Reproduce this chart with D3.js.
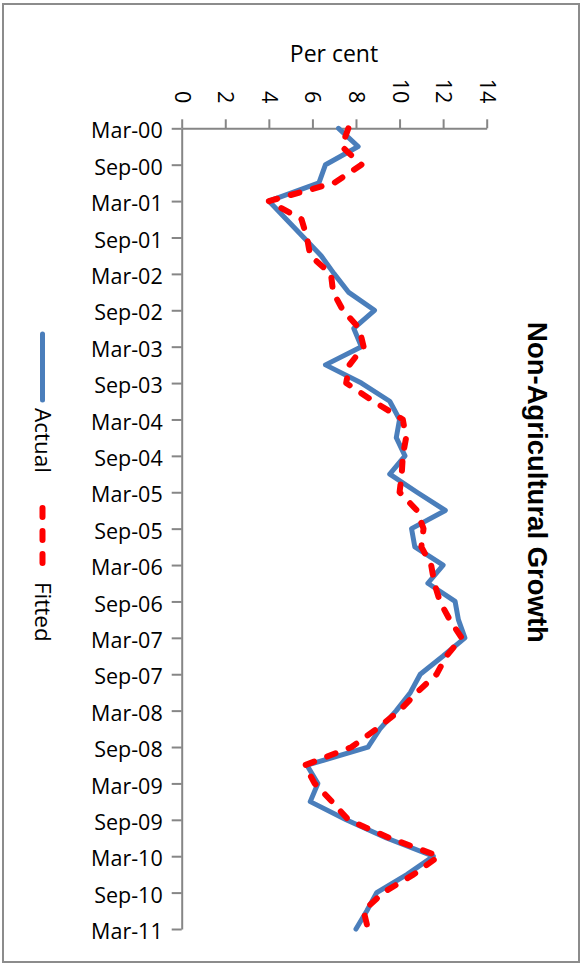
<!DOCTYPE html>
<html><head><meta charset="utf-8">
<script src="https://cdn.jsdelivr.net/npm/d3@7"></script>
<style>
html,body{margin:0;padding:0;background:#fff;}
svg{display:block;}
</style></head>
<body>
<svg id="chart" width="582" height="965"></svg>
<script>
const categories = ["Mar-00","Jun-00","Sep-00","Dec-00","Mar-01","Jun-01","Sep-01","Dec-01",
"Mar-02","Jun-02","Sep-02","Dec-02","Mar-03","Jun-03","Sep-03","Dec-03",
"Mar-04","Jun-04","Sep-04","Dec-04","Mar-05","Jun-05","Sep-05","Dec-05",
"Mar-06","Jun-06","Sep-06","Dec-06","Mar-07","Jun-07","Sep-07","Dec-07",
"Mar-08","Jun-08","Sep-08","Dec-08","Mar-09","Jun-09","Sep-09","Dec-09",
"Mar-10","Jun-10","Sep-10","Dec-10","Mar-11"];
const actual = [7.2,8.1,6.6,6.3,4.0,4.8,5.6,6.4,7.0,7.65,8.85,7.9,8.25,6.6,8.25,9.55,
10.0,9.85,10.25,9.55,10.8,12.1,10.55,10.7,12.0,11.3,12.55,12.7,13.0,12.0,10.95,10.5,
9.85,9.1,8.55,5.75,6.25,5.9,7.55,9.4,11.55,10.35,8.95,8.5,8.0];
const fitted = [7.65,7.35,8.25,7.0,4.0,5.5,5.75,5.9,6.85,6.95,7.4,8.15,8.35,7.7,7.55,8.8,
10.15,10.3,10.15,10.1,10.0,10.8,11.1,11.0,11.45,11.6,11.85,12.3,12.85,12.15,11.7,10.8,
10.0,8.95,7.8,5.65,6.1,6.9,7.65,9.55,11.8,10.65,9.25,8.35,8.55];
const valueTicks = [0,2,4,6,8,10,12,14];
const seriesNames = ["Actual","Fitted"];
const title = "Non-Agricultural Growth";
const axisTitle = "Per cent";

const svg = d3.select("#chart");
const axisColor = "#868686";
const blue = "#4A7EBB", red = "#FF0000";
const font = "'Open Sans', sans-serif";

// frame
svg.append("rect").attr("x",3).attr("y",4).attr("width",576).attr("height",958)
  .attr("fill","#fff").attr("stroke","#8c8c8c").attr("stroke-width",2);

const x = d3.scaleLinear().domain([0,14]).range([181.7,486.7]);
const y = d3.scalePoint().domain(categories).range([128.3,929]);

// value axis (top)
const xAxis = svg.append("g").attr("transform","translate(0,128.3)")
  .call(d3.axisTop(x).tickValues(valueTicks).tickSize(9).tickSizeOuter(0).tickFormat(d3.format("d")));
xAxis.select(".domain").attr("stroke",axisColor).attr("stroke-width",2);
xAxis.selectAll(".tick line").attr("stroke",axisColor).attr("stroke-width",2);
xAxis.selectAll(".tick text")
  .attr("font-family",font).attr("font-size",21.5).attr("fill","#000")
  .attr("text-anchor","end").attr("x",null).attr("y",null).attr("dy","0.35em")
  .attr("transform","translate(0,-25) rotate(90)");

// category axis (left)
const yAxis = svg.append("g").attr("transform","translate(181.7,0)")
  .call(d3.axisLeft(y).tickValues(categories.filter((d,i)=>i%2===0)).tickSize(10).tickSizeOuter(0));
yAxis.select(".domain").attr("stroke",axisColor).attr("stroke-width",2);
yAxis.selectAll(".tick line").attr("stroke",axisColor).attr("stroke-width",2);
yAxis.selectAll(".tick text")
  .attr("font-family",font).attr("font-size",21.5).attr("fill","#000")
  .attr("x",-19).attr("dy","0.45em").attr("text-anchor","end");

// axis title
svg.append("text").attr("x",334).attr("y",62).attr("text-anchor","middle")
  .attr("font-family",font).attr("font-size",23).attr("fill","#000").text(axisTitle);

// lines
const lineA = d3.line().x(d=>x(d[1])).y(d=>y(d[0]));
svg.append("path").datum(categories.map((c,i)=>[c,actual[i]]))
  .attr("d",lineA).attr("fill","none").attr("stroke",blue).attr("stroke-width",5)
  .attr("stroke-linejoin","round").attr("stroke-linecap","round");
svg.append("path").datum(categories.map((c,i)=>[c,fitted[i]]))
  .attr("d",lineA).attr("fill","none").attr("stroke",red).attr("stroke-width",6)
  .attr("stroke-dasharray","9,14").attr("stroke-linejoin","round").attr("stroke-linecap","round");

// chart title
svg.append("text").attr("transform","translate(538,482.5) rotate(90)")
  .attr("text-anchor","middle").attr("dy","0.35em")
  .attr("font-family","'Liberation Sans', Arial, sans-serif").attr("font-weight","bold")
  .attr("font-size",27.5).attr("fill","#000").text(title);

// legend
const legend = [
  {name:seriesNames[0], color:blue, dash:null, w:5, y0:334, y1:400, ty:408},
  {name:seriesNames[1], color:red, dash:"9,14", w:6, y0:508, y1:566, ty:582}
];
legend.forEach(l=>{
  svg.append("line").attr("x1",42.5).attr("x2",42.5).attr("y1",l.y0).attr("y2",l.y1)
    .attr("stroke",l.color).attr("stroke-width",l.w).attr("stroke-linecap","round")
    .attr("stroke-dasharray",l.dash);
  svg.append("text").attr("transform",`translate(43,${l.ty}) rotate(90)`)
    .attr("dy","0.35em").attr("font-family",font).attr("font-size",22.5).attr("fill","#000")
    .text(l.name);
});
</script>
</body></html>
